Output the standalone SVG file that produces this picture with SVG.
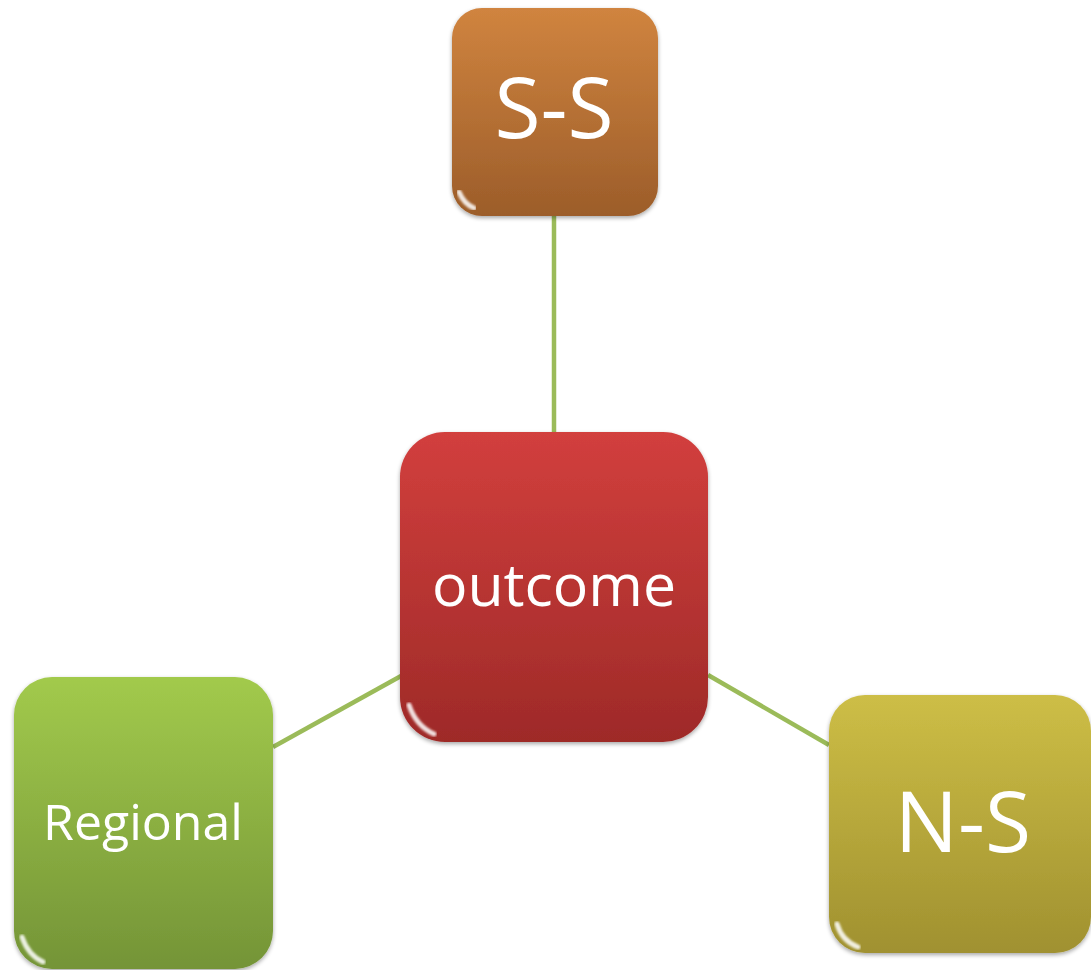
<svg xmlns="http://www.w3.org/2000/svg" width="1091" height="970" viewBox="0 0 1091 970">
<defs>
<linearGradient id="gSS" x1="0" y1="0" x2="0" y2="1"><stop offset="0" stop-color="#d0843f"/><stop offset="1" stop-color="#9c5d2a"/></linearGradient>
<linearGradient id="gOut" x1="0" y1="0" x2="0" y2="1"><stop offset="0" stop-color="#d23f3d"/><stop offset="1" stop-color="#9e2a28"/></linearGradient>
<linearGradient id="gReg" x1="0" y1="0" x2="0" y2="1"><stop offset="0" stop-color="#a2ca4c"/><stop offset="1" stop-color="#749437"/></linearGradient>
<linearGradient id="gNS" x1="0" y1="0" x2="0" y2="1"><stop offset="0" stop-color="#cdbe46"/><stop offset="1" stop-color="#a09130"/></linearGradient>
<linearGradient id="gloss" x1="0" y1="0" x2="1" y2="0"><stop offset="0" stop-color="#fff" stop-opacity="0"/><stop offset="0.15" stop-color="#fff" stop-opacity="0.5"/><stop offset="0.85" stop-color="#fff" stop-opacity="0.5"/><stop offset="1" stop-color="#fff" stop-opacity="0"/></linearGradient>
<filter id="sh" x="-10%" y="-10%" width="120%" height="120%"><feGaussianBlur in="SourceAlpha" stdDeviation="2"/><feOffset dx="0" dy="2"/><feComponentTransfer><feFuncA type="linear" slope="0.35"/></feComponentTransfer><feMerge><feMergeNode/><feMergeNode in="SourceGraphic"/></feMerge></filter>
<filter id="soft"><feGaussianBlur stdDeviation="1.2"/></filter>
</defs>
<style>
.lbl{fill:#fff;font-family:"Open Sans","Noto Sans",sans-serif;text-anchor:middle}
.conn{stroke:#9bbb59;stroke-width:4.5;fill:none}
.hl{fill:none;stroke:url(#gloss);stroke-width:3}
.corner{fill:none;stroke:#fff;stroke-opacity:0.85;stroke-width:5;stroke-linecap:round;filter:url(#soft)}
</style>
<rect width="1091" height="970" fill="#fff"/>
<g id="connectors">
<line class="conn" x1="554" y1="216" x2="554" y2="432"/>
<line class="conn" x1="401" y1="676" x2="273" y2="747"/>
<line class="conn" x1="708" y1="675" x2="829" y2="745"/>
</g>
<g id="node-ss" filter="url(#sh)">
<rect x="452" y="8" width="206" height="208" rx="30" fill="url(#gSS)"/>
<line class="hl" x1="470" y1="16" x2="640" y2="16"/>
<path class="corner" d="M459 192 Q464 204 474 208"/>
<text class="lbl" x="554" y="138" font-size="84">S-S</text>
</g>
<g id="node-outcome" filter="url(#sh)">
<rect x="400" y="432" width="308" height="310" rx="45" fill="url(#gOut)"/>
<line class="hl" x1="425" y1="441" x2="685" y2="441"/>
<path class="corner" d="M409 705 Q416 726 434 734"/>
<text class="lbl" x="554" y="606" font-size="59">outcome</text>
</g>
<g id="node-regional" filter="url(#sh)">
<rect x="14" y="677" width="259" height="292" rx="38" fill="url(#gReg)"/>
<line class="hl" x1="35" y1="685" x2="252" y2="685"/>
<path class="corner" d="M22 937 Q28 955 43 962"/>
<text class="lbl" x="143" y="840" font-size="50">Regional</text>
</g>
<g id="node-ns" filter="url(#sh)">
<rect x="829" y="695" width="262" height="258" rx="36" fill="url(#gNS)"/>
<line class="hl" x1="850" y1="703" x2="1070" y2="703"/>
<path class="corner" d="M837 924 Q842 941 858 947"/>
<text class="lbl" x="963" y="852" font-size="84">N-S</text>
</g>
</svg>
